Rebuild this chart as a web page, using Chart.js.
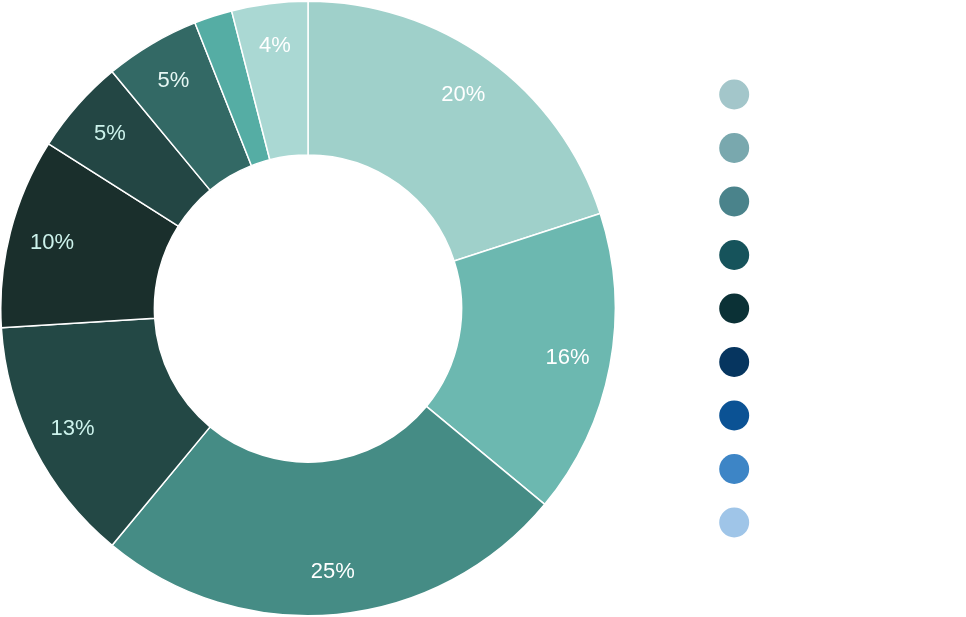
<!DOCTYPE html>
<html>
<head>
<meta charset="utf-8">
<script src="https://cdn.jsdelivr.net/npm/chart.js@4/dist/chart.umd.min.js"></script>
<style>
  html, body { margin: 0; padding: 0; background: #ffffff; }
  #wrap { width: 966px; height: 617px; position: relative; }
</style>
</head>
<body>
<div id="wrap"><canvas id="c"></canvas></div>
<script>
// ---- data ----
const categories = ['', '', '', '', '', '', '', '', ''];
const values = [20, 16, 25, 13, 10, 5, 5, 2, 4];
const sliceColors = ['#9fd0ca', '#6cb8b0', '#458c85', '#234845', '#1a2f2c', '#234644', '#336965', '#55ada4', '#aad8d3'];
const labelColors = ['#ffffff', '#ffffff', '#ffffff', '#cdf3ec', '#cdf3ec', '#cdf3ec', '#e6f7f4', '#ffffff', '#ffffff'];
const legendColors = ['#a3c6ca', '#79a8ae', '#4a838b', '#16535b', '#0b3136', '#06355f', '#0b5294', '#3d85c6', '#9fc5e8'];
const minLabelValue = 3;

// label drawing on slices
const sliceLabels = {
  id: 'sliceLabels',
  afterDatasetsDraw(chart) {
    const ctx = chart.ctx;
    const meta = chart.getDatasetMeta(0);
    const data = chart.data.datasets[0].data;
    ctx.save();
    ctx.font = '22px "Liberation Sans", Arial, sans-serif';
    ctx.textAlign = 'center';
    ctx.textBaseline = 'middle';
    meta.data.forEach((arc, i) => {
      if (data[i] < minLabelValue) return;
      const p = arc.getProps(['x', 'y', 'startAngle', 'endAngle', 'innerRadius', 'outerRadius'], true);
      const mid = (p.startAngle + p.endAngle) / 2;
      const r = p.innerRadius + (p.outerRadius - p.innerRadius) * 0.72;
      ctx.fillStyle = labelColors[i];
      ctx.fillText(data[i] + '%', p.x + Math.cos(mid) * r, p.y + Math.sin(mid) * r);
    });
    ctx.restore();
  }
};

// legend box width
const legendWidth = {
  id: 'legendWidth',
  beforeInit(chart) {
    const lg = chart.legend;
    if (!lg) return;
    const origFit = lg.fit;
    lg.fit = function () {
      origFit.call(this);
      this.width = 160.7;
    };
  }
};

new Chart(document.getElementById('c'), {
  type: 'doughnut',
  data: {
    labels: categories,
    datasets: [{
      data: values,
      backgroundColor: sliceColors,
      borderColor: '#ffffff',
      borderWidth: 1.5
    }]
  },
  options: {
    responsive: true,
    maintainAspectRatio: false,
    animation: false,
    cutout: '50%',
    layout: { padding: { left: 0, top: 0, bottom: 0, right: 189.3 } },
    plugins: {
      tooltip: { enabled: false },
      legend: {
        position: 'right',
        align: 'center',
        rtl: true,
        labels: {
          usePointStyle: true,
          pointStyle: 'circle',
          boxWidth: 22,
          boxHeight: 21.2,
          padding: 31.5,
          font: { size: 22, family: '"Liberation Sans", Arial, sans-serif' },
          generateLabels: () => legendColors.map((c, i) => ({
            text: categories[i],
            fillStyle: c,
            strokeStyle: c,
            lineWidth: 0,
            pointStyle: 'circle',
            hidden: false,
            index: i
          }))
        }
      }
    }
  },
  plugins: [sliceLabels, legendWidth]
});
</script>
</body>
</html>
